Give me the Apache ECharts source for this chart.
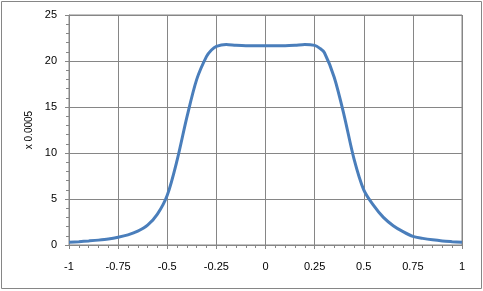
<!DOCTYPE html>
<html><head><meta charset="utf-8">
<script src="https://cdn.jsdelivr.net/npm/echarts@6/dist/echarts.min.js"></script>
<style>html,body{margin:0;padding:0;background:#fff}#c{width:483px;height:291px}</style>
</head><body><div id="c"></div>
<script>
const xValues = [-1.00,-0.95,-0.90,-0.85,-0.80,-0.75,-0.70,-0.65,-0.60,-0.55,-0.50,-0.45,-0.40,-0.35,-0.30,-0.275,-0.25,-0.20,-0.15,-0.10,-0.05,0.00,0.05,0.10,0.15,0.20,0.25,0.275,0.30,0.35,0.40,0.45,0.50,0.55,0.60,0.65,0.70,0.75,0.80,0.85,0.90,0.95,1.00];
const yValues = [0.30,0.36,0.44,0.53,0.65,0.84,1.10,1.50,2.15,3.35,5.40,9.2,13.9,18.0,20.5,21.2,21.6,21.8,21.7,21.65,21.65,21.65,21.65,21.65,21.7,21.8,21.7,21.4,20.9,18.2,14.1,9.4,6.0,4.3,3.0,2.1,1.45,0.93,0.72,0.56,0.44,0.36,0.29];
const yAxisName = 'x 0.0005';
const data = xValues.map((x,i)=>[x,yValues[i]]);
const gray = '#868686';
const chart = echarts.init(document.getElementById('c'));
chart.setOption({
  animation:false,
  graphic:[{type:'rect',shape:{x:1.5,y:1.5,width:480,height:287},style:{fill:'none',stroke:gray,lineWidth:1}}],
  grid:{left:69,right:21,top:15,bottom:46,show:true,borderColor:gray,borderWidth:1},
  xAxis:{type:'value',min:-1,max:1,interval:0.25,
    axisLine:{show:true,onZero:false,lineStyle:{color:gray}},
    axisTick:{show:true,length:4,lineStyle:{color:gray}},
    minorTick:{show:true,splitNumber:5,length:3,lineStyle:{color:gray}},
    splitLine:{show:true,lineStyle:{color:gray,width:1}},
    axisLabel:{color:'#000',fontFamily:'Liberation Sans',fontSize:11,margin:16}},
  yAxis:{type:'value',min:0,max:25,interval:5,
    name:yAxisName,nameLocation:'middle',nameGap:34,nameRotate:90,
    nameTextStyle:{color:'#000',fontFamily:'Liberation Sans',fontSize:10},
    axisLine:{show:true,onZero:false,lineStyle:{color:gray}},
    axisTick:{show:true,length:4,lineStyle:{color:gray}},
    minorTick:{show:true,splitNumber:5,length:3,lineStyle:{color:gray}},
    splitLine:{show:true,lineStyle:{color:gray,width:1}},
    axisLabel:{color:'#000',fontFamily:'Liberation Sans',fontSize:11,margin:12}},
  series:[{type:'line',data:data,smooth:0.3,showSymbol:false,
    lineStyle:{color:'#4a7ebb',width:3},itemStyle:{color:'#4a7ebb'}}]
});
</script></body></html>
